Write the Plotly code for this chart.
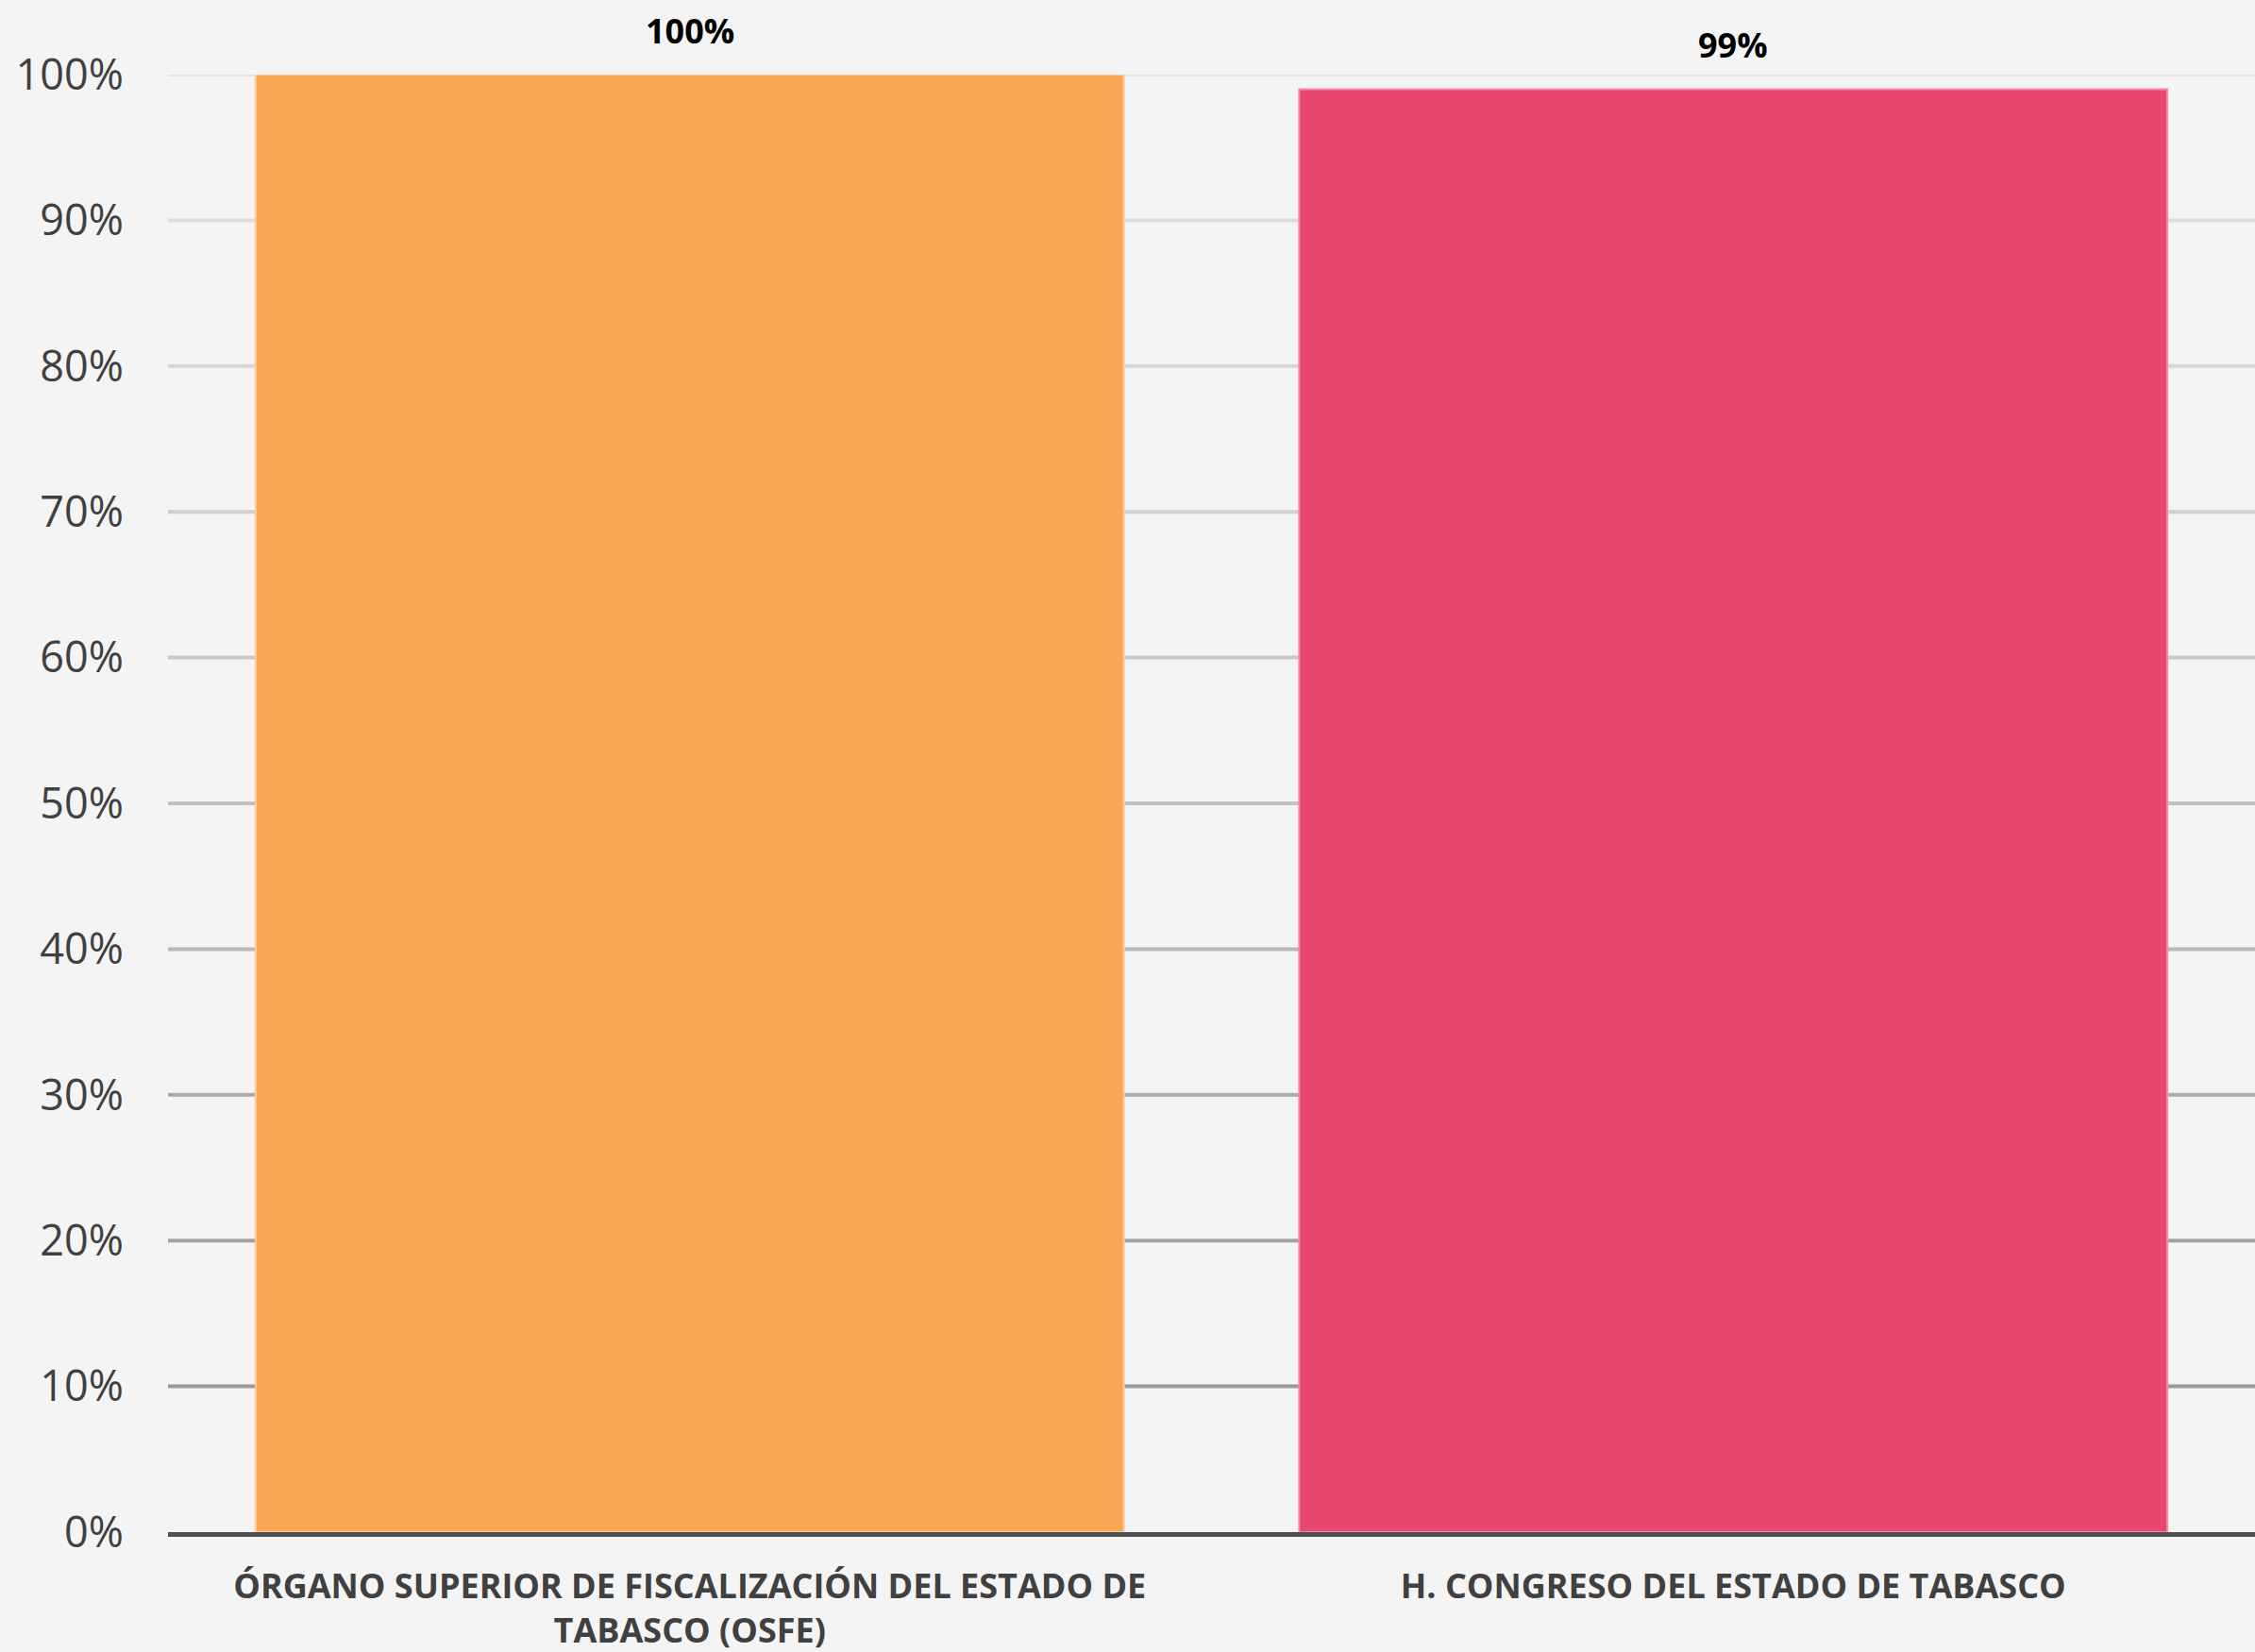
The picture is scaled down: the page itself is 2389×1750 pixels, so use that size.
import plotly.graph_objects as go

categories = [
    "ÓRGANO SUPERIOR DE FISCALIZACIÓN DEL ESTADO DE<br>TABASCO (OSFE)",
    "H. CONGRESO DEL ESTADO DE TABASCO",
]
values = [100, 99]
bar_colors = ["#F9A657", "#E8476F"]
bar_line_colors = ["#FCCB9C", "#F28DA6"]
tick_vals = [0, 10, 20, 30, 40, 50, 60, 70, 80, 90, 100]
tick_text = [f"{v}%" for v in tick_vals]
grid_colors = ["#999999", "#999999", "#A2A2A2", "#ABABAB", "#B8B8B8", "#C2C2C2",
               "#C9C9C9", "#CFCFCF", "#D6D6D6", "#DCDCDC", "#E3E3E3"]

fig = go.Figure()
fig.add_trace(go.Bar(
    x=categories, y=values,
    marker=dict(color=bar_colors, line=dict(color=bar_line_colors, width=2)),
    width=0.832,
    hoverinfo="skip",
))

for v, c in zip(categories, values):
    fig.add_annotation(
        x=v, y=c, xref="x", yref="y", text=f"<b>{c}%</b>",
        showarrow=False, yanchor="bottom", yshift=20,
        font=dict(family="Open Sans", size=36, color="#000000"),
    )

for tv, gc in zip(tick_vals[1:], grid_colors[1:]):
    fig.add_shape(type="line", xref="paper", yref="y", x0=0, x1=1, y0=tv, y1=tv,
                  line=dict(color=gc, width=4), layer="below")

fig.update_layout(
    width=2389, height=1750,
    margin=dict(l=178, r=0, t=79, b=127),
    paper_bgcolor="#F4F4F4",
    plot_bgcolor="rgba(0,0,0,0)",
    showlegend=False,
    bargap=0.168,
    font=dict(family="Open Sans", color="#404040"),
)
fig.update_yaxes(
    range=[0, 100], tickvals=tick_vals, ticktext=tick_text,
    showgrid=False, zeroline=False, showline=False,
    tickfont=dict(family="Open Sans", size=45, color="#404040"),
    ticks="", ticklabelstandoff=46,
)
fig.update_xaxes(
    showline=True, linecolor="#505050", linewidth=5,
    tickfont=dict(family="Open Sans", size=36, color="#404040", weight="bold"),
    ticks="", ticklabelstandoff=22,
)

fig.write_html(
    "out.html",
    config={"displayModeBar": False},
    post_script="document.body.style.margin='0';document.body.style.overflow='hidden';",
)
